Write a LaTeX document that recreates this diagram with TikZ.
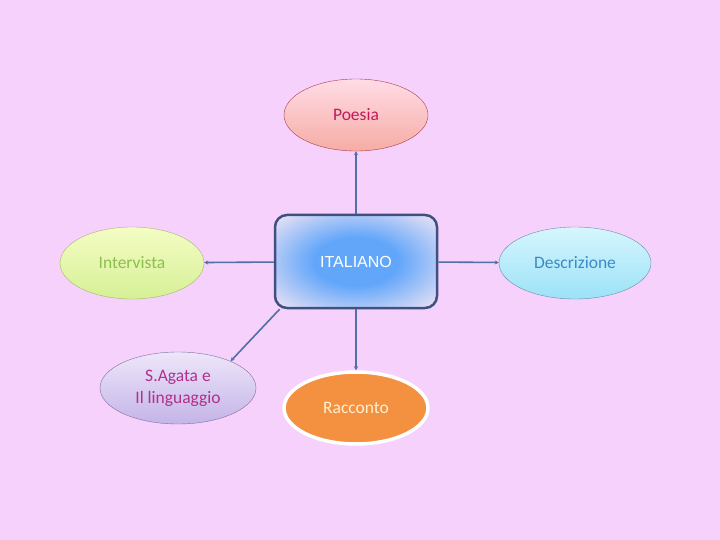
\documentclass[tikz,border=0pt]{standalone}
\usepackage{fontspec}
\setmainfont{Carlito}
\newfontfamily\arialfont{Liberation Sans}
\usetikzlibrary{arrows.meta, shapes.geometric}

\definecolor{bgpink}{RGB}{245,209,251}
\definecolor{linkblue}{RGB}{80,112,168}
\definecolor{framblue}{RGB}{64,80,128}
\definecolor{glowblue}{RGB}{98,166,250}
\definecolor{glowpale}{RGB}{238,228,244}
\pgfdeclareradialshading{coreglow}{\pgfpoint{0bp}{0bp}}{color(0bp)=(glowblue);
  color(13bp)=(glowblue); color(35bp)=(glowpale); color(50bp)=(glowpale)}

\begin{document}
\begin{tikzpicture}[
    x=1pt, y=-1pt,
    font=\fontsize{17.5}{22}\selectfont,
    bubble/.style={ellipse, draw, thin, minimum width=144pt, minimum height=72pt,
      inner sep=0pt, align=center},
    poembox/.style={bubble, draw={rgb,255:red,170;green,60;blue,80}, top color={rgb,255:red,255;green,220;blue,230},
      bottom color={rgb,255:red,246;green,172;blue,164}, text={rgb,255:red,196;green,24;blue,92}},
    interbox/.style={bubble, draw={rgb,255:red,170;green,180;blue,110}, top color={rgb,255:red,244;green,252;blue,196},
      bottom color={rgb,255:red,214;green,240;blue,150}, text={rgb,255:red,140;green,190;blue,80}},
    descbox/.style={bubble, minimum width=152pt, draw={rgb,255:red,110;green,140;blue,170},
      top color={rgb,255:red,214;green,246;blue,252},
      bottom color={rgb,255:red,156;green,226;blue,248}, text={rgb,255:red,58;green,138;blue,200}},
    agatabox/.style={bubble, minimum width=156pt, draw={rgb,255:red,130;green,110;blue,160},
      top color={rgb,255:red,238;green,230;blue,250}, bottom color={rgb,255:red,196;green,180;blue,232},
      text={rgb,255:red,176;green,48;blue,138}},
    talebox/.style={bubble, draw=white, line width=3.5pt, fill={rgb,255:red,243;green,145;blue,64},
      text={rgb,255:red,255;green,240;blue,210}},
    corebox/.style={rectangle, rounded corners=12pt, draw=framblue, line width=2.5pt,
      minimum width=162pt, minimum height=93pt, shading=coreglow,
      text=white, font=\arialfont\fontsize{16}{19}\selectfont},
    link/.style={-{Stealth[length=4pt, width=4pt]}, draw=linkblue, line width=1.6pt},
  ]
  \fill[bgpink] (0,0) rectangle (720,540);
  \useasboundingbox (0,0) rectangle (720,540);

  \node[corebox]   (italiano)    at (356,261.5) {ITALIANO};
  \node[poembox]   (poesia)      at (356,115)   {Poesia};
  \node[interbox]  (intervista)  at (132,263)   {Intervista};
  \node[descbox]   (descrizione) at (575,263)   {Descrizione};
  \node[agatabox]  (agata)       at (178,388)   {S.Agata e\\Il linguaggio};
  \node[talebox]   (racconto)    at (356,408)   {Racconto};

  \draw[link] (italiano) -- (poesia);
  \draw[link] (italiano) -- (intervista);
  \draw[link] (italiano) -- (descrizione);
  \draw[link] (italiano) -- (racconto);
  \draw[link] (italiano.212) -- (agata.27);
\end{tikzpicture}
\end{document}
